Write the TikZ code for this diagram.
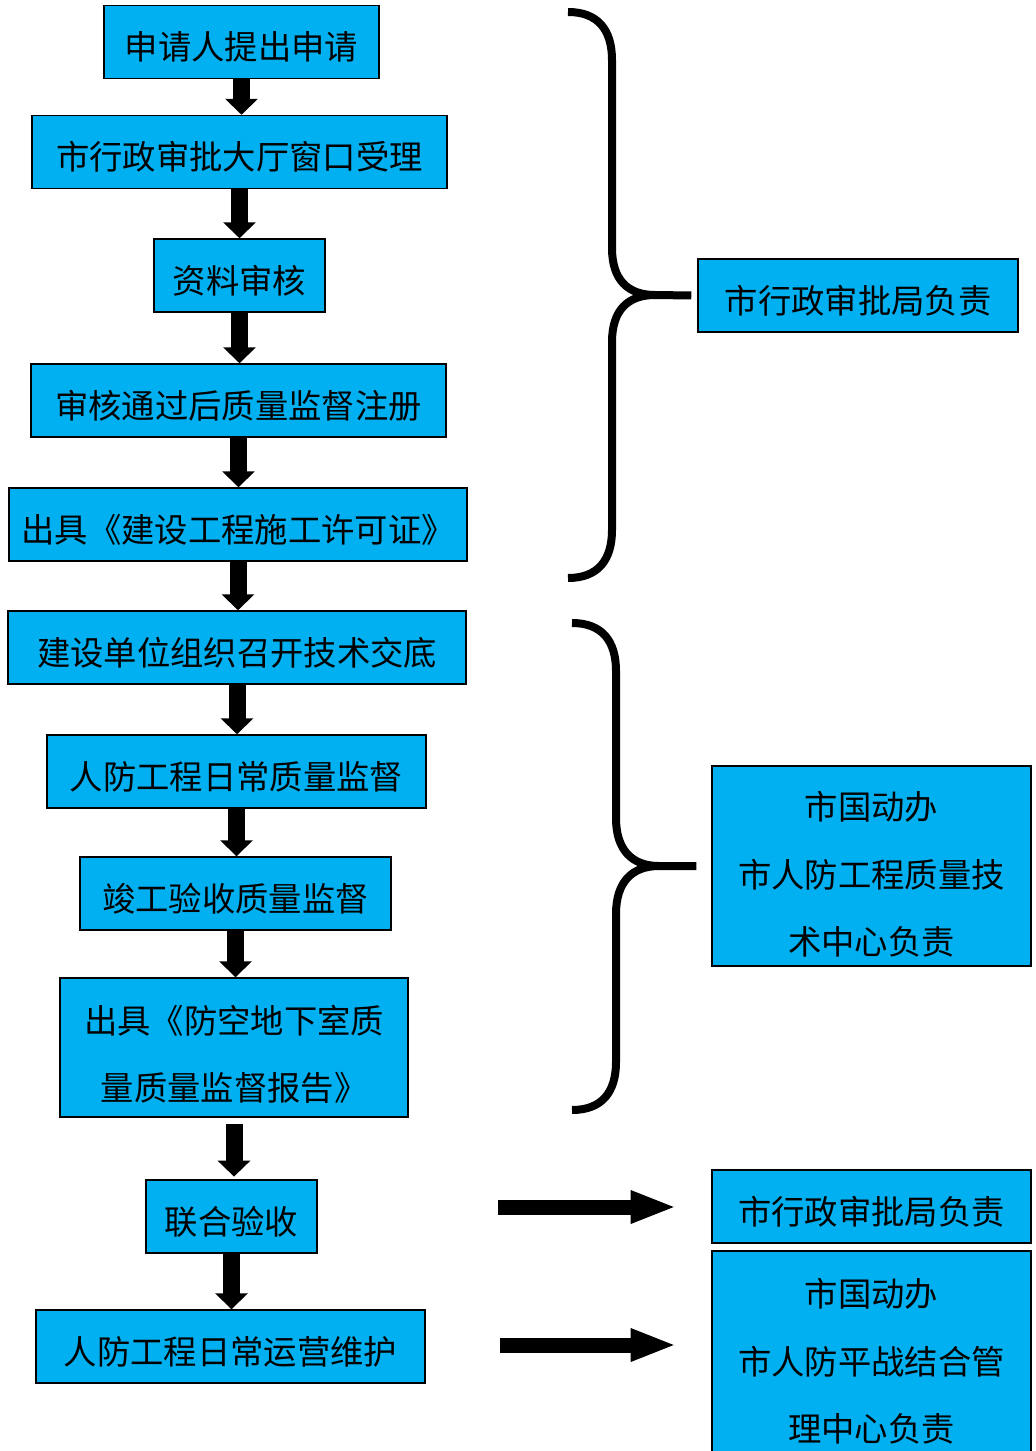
\documentclass[tikz,border=0pt]{standalone}
\usepackage{fontspec}
\setmainfont{Noto Sans CJK SC}
\usetikzlibrary{arrows.meta,calc}
\definecolor{boxblue}{RGB}{0,176,240}

\tikzset{
	box/.style={draw=black, line width=1.1pt, fill=boxblue, inner sep=0pt, minimum height=54.75pt, align=center, text height=27pt, text depth=0pt, font=\fontsize{25}{50.6}\selectfont},
	downarrow/.style={line width=12.75pt, -{Triangle[width=24pt,length=12pt]}},
	sidearrow/.style={line width=11.25pt, -{Triangle[width=22.5pt,length=34.5pt]}, shorten >=26pt},
	brace/.style={line width=6pt, line join=round}
}

\begin{document}
\begin{tikzpicture}[x=0.75pt, y=-0.75pt]
		%%%%% START %%%%%
		\useasboundingbox (0,0) rectangle (1035,1451);
		\clip (0,0) rectangle (1035,1451);
		
		% left column
		\node[box, minimum width=206.25pt] (apply) at (241.5,42) {申请人提出申请};
		\node[box, minimum width=311.25pt] (window) at (239.5,152) {市行政审批大厅窗口受理};
		\node[box, minimum width=128.25pt] (check) at (239.5,275.5) {资料审核};
		\node[box, minimum width=311.25pt] (register) at (238.5,400.5) {审核通过后质量监督注册};
		\node[box, minimum width=343.5pt] (permit) at (238,524.5) {出具《建设工程施工许可证》};
		\node[box, minimum width=343.5pt] (brief) at (237,647.5) {建设单位组织召开技术交底};
		\node[box, minimum width=284.25pt] (daily) at (236.5,771.5) {人防工程日常质量监督};
		\node[box, minimum width=233.25pt] (accept) at (235.5,893.5) {竣工验收质量监督};
		\node[box, minimum width=261pt, minimum height=104.25pt, text height=79.6pt] (report) at (234,1047.5) {出具《防空地下室质\\量质量监督报告》};
		\node[box, minimum width=128.25pt] (joint) at (231.5,1216.5) {联合验收};
		\node[box, minimum width=291.75pt] (keep) at (230.5,1346.5) {人防工程日常运营维护};
		
		% right column
		\node[box, minimum width=240pt] (bureauA) at (858,295.5) {市行政审批局负责};
		\node[box, minimum width=239.25pt, minimum height=150pt, text height=133.2pt] (centerA) at (871.5,866) {市国动办\\市人防工程质量技\\术中心负责};
		\node[box, minimum width=239.25pt] (bureauB) at (871.5,1206.5) {市行政审批局负责};
		\node[box, minimum width=239.25pt, minimum height=165pt, text height=121.2pt] (centerB) at (871.5,1361) {市国动办\\市人防平战结合管\\理中心负责};
		
		% flow arrows
		\draw[downarrow] (apply.south) -- (apply.south |- window.north);
		\draw[downarrow] (window.south) -- (window.south |- check.north);
		\draw[downarrow] (check.south) -- (check.south |- register.north);
		\draw[downarrow] (register.south) -- (register.south |- permit.north);
		\draw[downarrow] (permit.south) -- (permit.south |- brief.north);
		\draw[downarrow] (brief.south) -- (brief.south |- daily.north);
		\draw[downarrow] (daily.south) -- (daily.south |- accept.north);
		\draw[downarrow] (accept.south) -- (accept.south |- report.north);
		\draw[downarrow, shorten <=5pt, shorten >=2pt] (report.south) -- (report.south |- joint.north);
		\draw[downarrow] (joint.south) -- (joint.south |- keep.north);
		
		% braces
		\draw[brace] (568,12) .. controls (598,12) and (612,30) .. (612,60) -- (612,248) .. controls (612,280) and (628,295) .. (655,295) -- ($(bureauA.west)+(-6,0)$);
		\draw[brace] (655,295) .. controls (628,295) and (612,310) .. (612,342) -- (612,530) .. controls (612,560) and (598,578) .. (568,578);
		
		\draw[brace] (572,623) .. controls (602,623) and (616,641) .. (616,671) -- (616,818) .. controls (616,850) and (632,866) .. (659,866) -- ($(centerA.west)+(-15,0)$);
		\draw[brace] (659,866) .. controls (632,866) and (616,882) .. (616,914) -- (616,1062) .. controls (616,1092) and (602,1110) .. (572,1110);
		
		% side arrows
		\coordinate (fromJoint) at (498,1207);
		\coordinate (fromKeep) at (500,1345);
		\draw[sidearrow] (fromJoint) -- (fromJoint -| bureauB.west);
		\draw[sidearrow] (fromKeep) -- (fromKeep -| centerB.west);
		%%%%% END %%%%%
\end{tikzpicture}
\end{document}
